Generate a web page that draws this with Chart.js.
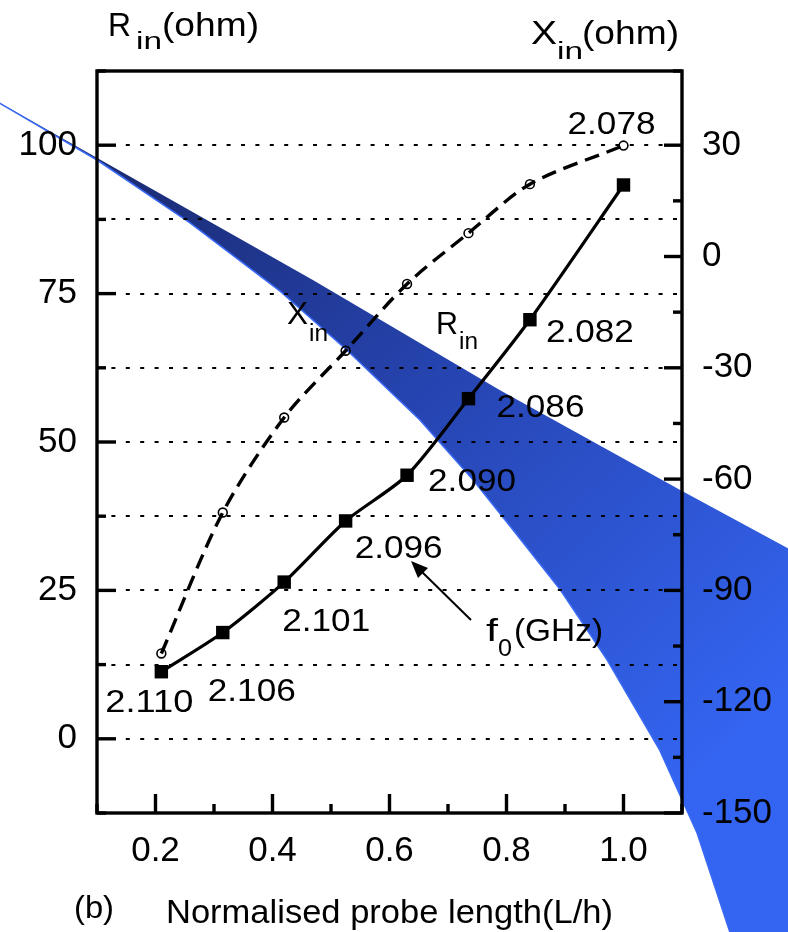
<!DOCTYPE html>
<html lang="en">
<head>
<meta charset="UTF-8">
<title>Input impedance vs probe length</title>
<script src="https://cdn.jsdelivr.net/npm/chart.js"></script>
<style>
  html, body { margin: 0; padding: 0; background: #fff; }
  canvas { display: block; }
</style>
</head>
<body>
<canvas id="impChart" width="788" height="932"></canvas>
<script>
// normalised probe length L/h
const probeLength = [0.21, 0.315, 0.42, 0.525, 0.63, 0.735, 0.84, 1.0];
// input resistance (ohm), left axis
const rIn = [11.3, 17.9, 26.4, 36.7, 44.4, 57.3, 70.6, 93.3];
// input reactance (ohm), right axis
const xIn = [-107.0, -69.0, -43.4, -25.4, -7.4, 6.3, 19.5, 29.9];
// resonant frequency at each length (GHz)
const freqGHz = ['2.110', '2.106', '2.101', '2.096', '2.090', '2.086', '2.082', '2.078'];

// labelled ticks
const xTickVals = [0.2, 0.4, 0.6, 0.8, 1.0];
const rTickVals = [0, 25, 50, 75, 100];
const xInTickVals = [-150, -120, -90, -60, -30, 0, 30];

// blue wedge behind the plot, in (L/h, left-axis ohm) units
const wedgeTopX = [-0.10, -0.066, 0.469, 0.789, 1.097, 1.281, 1.40];
const wedgeTopY = [109.0, 107.1, 77.3, 58.7, 41.9, 32.1, 25.6];
const wedgeLowX = [0.10, 0.259, 0.413, 0.527, 0.652, 0.743, 0.811, 0.892, 0.972, 1.062, 1.126, 1.182, 1.208];
const wedgeLowY = [97.5, 86.9, 75.4, 65.5, 53.7, 43.6, 35.2, 25.1, 13.3, -1.9, -15.9, -32.6, -40.6];

const FONT = '"Liberation Sans", Arial, sans-serif';

function isIn(list, v) {
    return list.find(t => Math.abs(t - v) < 1e-6);
}

function fitText(ctx, text, x, y, size, width, align) {
    ctx.save();
    ctx.font = size + 'px ' + FONT;
    const w = ctx.measureText(text).width;
    ctx.translate(x, y);
    ctx.scale(width ? width / w : 1, 1);
    ctx.textAlign = align || 'left';
    ctx.textBaseline = 'alphabetic';
    ctx.fillStyle = '#000';
    ctx.fillText(text, 0, 0);
    ctx.restore();
}

// [text, left, baseline, font size, drawn width]
const notes = [
    ['R', 108, 36, 33, 23], ['in', 136, 49, 23, 26], ['(ohm)', 162, 36, 33, 97],
    ['X', 531, 44, 33, 26], ['in', 557, 59, 23, 26], ['(ohm)', 582, 44, 33, 97],
    ['X', 287, 324, 31, 21], ['in', 309, 341, 23, 19],
    ['R', 436, 334, 31, 22], ['in', 459, 349, 23, 19],
    ['f', 486, 641, 32, 12], ['0', 498, 656, 23, 14], ['(GHz)', 514, 641, 32, 89],
    ['(b)', 74, 918, 31, 40],
    ['Normalised probe length(L/h)', 166, 923, 33, 447]
];
// offset of each frequency label centre/baseline from its point
const freqOffsets = [[-12, 40], [29, 68], [42, 49], [53, 37], [65, 16], [72, 18], [60, 22], [-12, -12]];

const wedgePlugin = {
    id: 'wedge',
    beforeDraw(chart) {
        const {ctx, scales} = chart;
        const sx = v => scales.x.getPixelForValue(v);
        const sy = v => scales.y.getPixelForValue(v);
        ctx.save();
        ctx.fillStyle = '#fff';
        ctx.fillRect(0, 0, chart.width, chart.height);

        const grad = ctx.createLinearGradient(sx(0.1), sy(98), sx(1.1), sy(-10));
        grad.addColorStop(0, '#1a2a70');
        grad.addColorStop(0.45, '#2644b0');
        grad.addColorStop(1, '#3465f2');

        ctx.beginPath();
        wedgeTopX.forEach((x, i) => ctx[i ? 'lineTo' : 'moveTo'](sx(x), sy(wedgeTopY[i])));
        ctx.lineTo(sx(1.40), sy(-45));
        for (let i = wedgeLowX.length - 1; i >= 0; i--) ctx.lineTo(sx(wedgeLowX[i]), sy(wedgeLowY[i]));
        ctx.closePath();
        ctx.fillStyle = grad;
        ctx.fill();

        // bright thin edge on the lower side
        ctx.beginPath();
        ctx.moveTo(sx(wedgeTopX[0]), sy(wedgeTopY[0]));
        wedgeLowX.forEach((x, i) => ctx.lineTo(sx(x), sy(wedgeLowY[i])));
        ctx.strokeStyle = '#3a6af5';
        ctx.lineWidth = 1.6;
        ctx.stroke();
        ctx.restore();
    },
    afterDraw(chart) {
        const {ctx, chartArea: a, scales} = chart;
        ctx.save();
        ctx.strokeStyle = '#000';
        ctx.lineWidth = 3.4;
        ctx.lineCap = 'butt';

        // tick marks, pointing inward
        const line = (x1, y1, x2, y2) => { ctx.beginPath(); ctx.moveTo(x1, y1); ctx.lineTo(x2, y2); ctx.stroke(); };
        scales.x.ticks.forEach(t => {
            const p = scales.x.getPixelForValue(t.value);
            line(p, a.bottom, p, a.bottom - (isIn(xTickVals, t.value) !== undefined ? 19 : 9));
        });
        scales.y.ticks.forEach(t => {
            const p = scales.y.getPixelForValue(t.value);
            line(a.left, p, a.left + (isIn(rTickVals, t.value) !== undefined ? 19 : 9), p);
        });
        scales.y2.ticks.forEach(t => {
            const p = scales.y2.getPixelForValue(t.value);
            line(a.right, p, a.right - (isIn(xInTickVals, t.value) !== undefined ? 18 : 9), p);
        });

        // frame
        ctx.strokeRect(a.left, a.top, a.right - a.left, a.bottom - a.top);

        // arrow to the frequency labels
        ctx.lineWidth = 2;
        line(471, 620, 420, 570);
        ctx.beginPath();
        ctx.moveTo(411, 561);
        ctx.lineTo(428, 568);
        ctx.lineTo(418, 578);
        ctx.closePath();
        ctx.fillStyle = '#000';
        ctx.fill();

        // frequency labels next to the points
        freqGHz.forEach((f, i) => {
            const last = i === freqGHz.length - 1;
            const px = scales.x.getPixelForValue(probeLength[i]);
            const py = last ? scales.y2.getPixelForValue(xIn[i]) : scales.y.getPixelForValue(rIn[i]);
            fitText(ctx, f, px + freqOffsets[i][0], py + freqOffsets[i][1], 32, 88, 'center');
        });

        notes.forEach(n => fitText(ctx, n[0], n[1], n[2], n[3], n[4]));
        ctx.restore();
    }
};

const tickFont = { family: 'Liberation Sans', size: 35 };

new Chart(document.getElementById('impChart'), {
    type: 'line',
    data: {
        datasets: [
            {
                label: 'Rin',
                data: probeLength.map((x, i) => ({ x: x, y: rIn[i] })),
                yAxisID: 'y',
                borderColor: '#000',
                borderWidth: 3.2,
                tension: 0.25,
                pointStyle: 'rect',
                pointRadius: 9.5,
                pointBorderWidth: 0,
                pointBackgroundColor: '#000'
            },
            {
                label: 'Xin',
                data: probeLength.map((x, i) => ({ x: x, y: xIn[i] })),
                yAxisID: 'y2',
                borderColor: '#000',
                borderWidth: 3.4,
                borderDash: [15, 8],
                tension: 0.3,
                pointStyle: 'circle',
                pointRadius: 4.4,
                pointBorderWidth: 1.6,
                pointBorderColor: '#000',
                pointBackgroundColor: 'rgba(0,0,0,0)'
            }
        ]
    },
    options: {
        responsive: false,
        animation: false,
        devicePixelRatio: 1,
        layout: { padding: { top: 71, left: 0, right: 0, bottom: 0 } },
        plugins: { legend: { display: false }, tooltip: { enabled: false } },
        scales: {
            x: {
                type: 'linear',
                min: 0.1,
                max: 1.1,
                afterFit: s => { s.height = 119; },
                grid: { display: false, drawTicks: false },
                border: { display: false },
                ticks: {
                    stepSize: 0.1,
                    autoSkip: false,
                    maxRotation: 0,
                    padding: 17,
                    color: '#000',
                    font: tickFont,
                    callback: v => { const t = isIn(xTickVals, v); return t !== undefined ? t.toFixed(1) : ''; }
                }
            },
            y: {
                position: 'left',
                min: -12.5,
                max: 112.5,
                afterFit: s => { s.width = 97; },
                grid: {
                    drawTicks: false,
                    lineWidth: 2,
                    color: c => (c.tick && c.tick.value >= 0 && c.tick.value <= 100) ? '#000' : 'rgba(0,0,0,0)'
                },
                border: { display: false, dash: [4, 10.4] },
                ticks: {
                    stepSize: 12.5,
                    autoSkip: false,
                    padding: 20,
                    color: '#000',
                    font: tickFont,
                    callback: v => { const t = isIn(rTickVals, v); return t !== undefined ? String(t) : ''; }
                }
            },
            y2: {
                position: 'right',
                min: -150,
                max: 50,
                afterFit: s => { s.width = 106; },
                grid: { display: false, drawTicks: false },
                border: { display: false },
                ticks: {
                    stepSize: 15,
                    autoSkip: false,
                    padding: 20,
                    color: '#000',
                    font: tickFont,
                    callback: v => { const t = isIn(xInTickVals, v); return t !== undefined ? String(t) : ''; }
                }
            }
        }
    },
    plugins: [wedgePlugin]
});
</script>
</body>
</html>
